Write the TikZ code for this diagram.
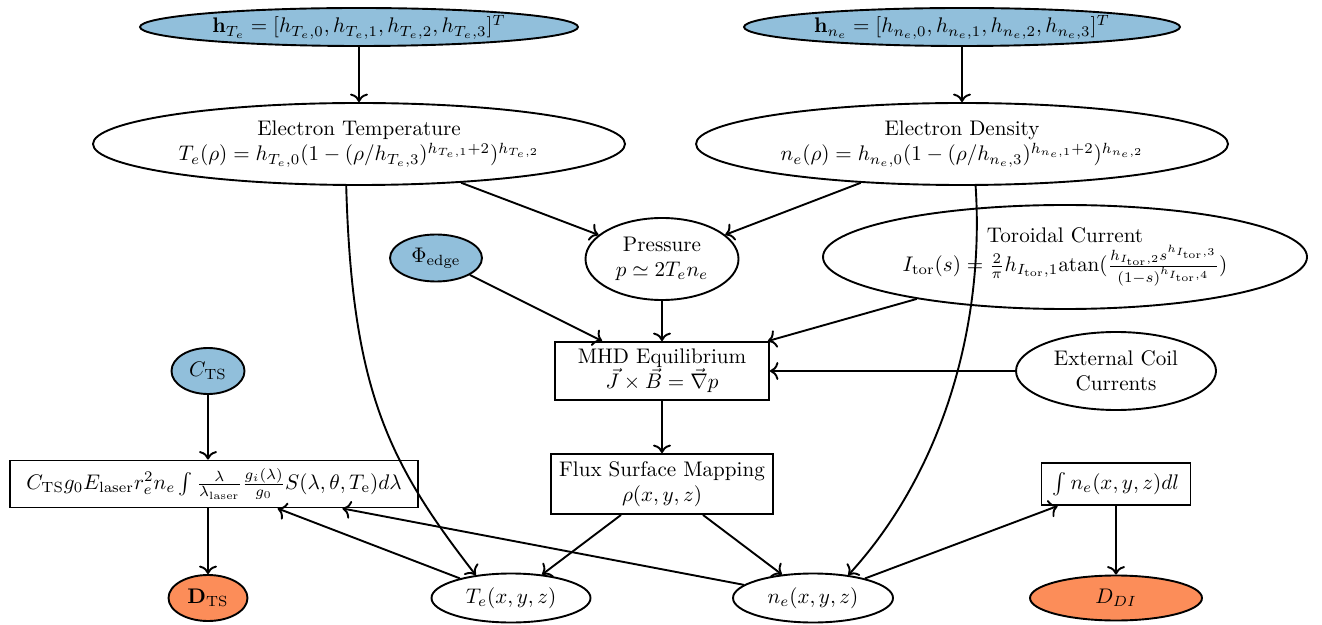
\documentclass[tikz,border=0pt]{standalone}
\usepackage{amsmath}
\usetikzlibrary{shapes.geometric,arrows.meta}
\definecolor{pblue}{HTML}{91BFDB}
\definecolor{porange}{HTML}{FC8D59}
\tikzset{
  ell/.style 2 args={ellipse, draw, line width=0.9pt, inner sep=0pt, align=center,
    minimum width=#1*0.4737pt, minimum height=#2*0.4737pt},
  boxn/.style 2 args={rectangle, draw, line width=0.9pt, inner sep=0pt, align=center,
    minimum width=#1*0.4737pt, minimum height=#2*0.4737pt},
  param/.style={fill=pblue},
  obs/.style={fill=porange},
  arr/.style={-{To[width=8.5pt,length=4pt]}, line width=0.9pt},
}
\begin{document}
\begin{tikzpicture}[x=0.4737pt, y=-0.4737pt]
\useasboundingbox (0,0) rectangle (1322,625);

\node[ell={438}{38}, param] (hT) at (359,27) {$\mathbf{h}_{T_e} = [h_{T_e,0}, h_{T_e,1}, h_{T_e,2}, h_{T_e,3}]^T$};
\node[ell={436}{38}, param] (hn) at (962,27) {$\mathbf{h}_{n_e} = [h_{n_e,0}, h_{n_e,1}, h_{n_e,2}, h_{n_e,3}]^T$};

\node[ell={532}{82}] (ET) at (359,144) {Electron Temperature\\ $T_e(\rho) = h_{T_e,0}(1-(\rho/h_{T_e,3})^{h_{T_e,1}+2})^{h_{T_e,2}}$};
\node[ell={532}{82}] (ED) at (962,144) {Electron Density\\ $n_e(\rho) = h_{n_e,0}(1-(\rho/h_{n_e,3})^{h_{n_e,1}+2})^{h_{n_e,2}}$};

\node[ell={153}{82}] (P) at (662,259) {Pressure\\ $p \simeq 2T_e n_e$};
\node[ell={92}{47}, param] (phi) at (436,258) {$\Phi_{\mathrm{edge}}$};
\node[ell={484}{104}] (tor) at (1065,257) {Toroidal Current\\ $I_{\mathrm{tor}}(s) = \frac{2}{\pi} h_{I_{\mathrm{tor}},1}\mathrm{atan}(\frac{h_{I_{\mathrm{tor}},2}s^{h_{I_{\mathrm{tor}},3}}}{(1-s)^{h_{I_{\mathrm{tor}},4}}})$};

\node[boxn={214}{58}] (mhd) at (662,371) {MHD Equilibrium\\ $\vec{J}\times\vec{B} = \vec{\nabla} p$};
\node[ell={200}{78}] (ext) at (1116,371) {External Coil\\ Currents};
\node[ell={73}{46}, param] (cts) at (208,371) {$C_{\mathrm{TS}}$};

\node[boxn={408}{47}] (ts) at (214,484) {$C_{\mathrm{TS}} g_0 E_{\mathrm{laser}} r_e^2 n_e \int \frac{\lambda}{\lambda_{\mathrm{laser}}} \frac{g_i(\lambda)}{g_0} S(\lambda,\theta,T_{\mathrm{e}}) d\lambda$};
\node[boxn={222}{60}] (flux) at (662,484) {Flux Surface Mapping\\ $\rho(x,y,z)$};
\node[boxn={149}{42}] (int) at (1116,484) {$\int n_e(x,y,z) dl$};

\node[ell={79}{46}, obs] (dts) at (208,598) {$\mathbf{D}_{\mathrm{TS}}$};
\node[ell={159}{49}] (tex) at (511,598) {$T_e(x,y,z)$};
\node[ell={160}{49}] (nex) at (813,598) {$n_e(x,y,z)$};
\node[ell={172}{45}, obs] (ddi) at (1116,598) {$D_{DI}$};

\draw[arr] (hT) -- (ET);
\draw[arr] (hn) -- (ED);
\draw[arr] (ET) -- (P);
\draw[arr] (ED) -- (P);
\draw[arr] (phi) -- (mhd);
\draw[arr] (P) -- (mhd);
\draw[arr] (tor) -- (mhd);
\draw[arr] (ext) -- (mhd);
\draw[arr] (cts) -- (cts |- ts.north);
\draw[arr] (mhd) -- (flux);
\draw[arr] (flux) -- (tex);
\draw[arr] (flux) -- (nex);
\draw[arr] (ts.south -| dts) -- (dts);
\draw[arr] (tex) -- (ts);
\draw[arr] (nex) -- (ts);
\draw[arr] (nex) -- (int);
\draw[arr] (int) -- (ddi);
\draw[arr] (ET.-107) .. controls (352,390) and (388,462) .. (tex.147);
\draw[arr] (ED.-72) .. controls (985,330) and (940,475) .. (nex.33);
\end{tikzpicture}
\end{document}
